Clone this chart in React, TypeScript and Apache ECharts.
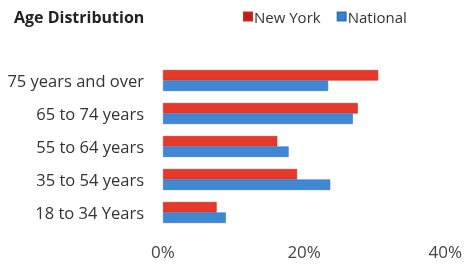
import React, { useEffect, useRef } from "react";
import * as echarts from "echarts";

const categories = ["18 to 34 Years", "35 to 54 years", "55 to 64 years", "65 to 74 years", "75 years and over"];
const newYork = [7.6, 19.0, 16.2, 27.6, 30.5];
const national = [8.9, 23.7, 17.8, 26.9, 23.4];
const seriesNames = ["New York", "National"];
const tickLabels = ["0%", "20%", "40%"];

export default function App() {
  const ref = useRef<HTMLDivElement>(null);
  useEffect(() => {
    const chart = echarts.init(ref.current!, null, { renderer: "svg" });
    const font = "'Open Sans', Lato, sans-serif";
    chart.setOption({
      animation: false,
      title: {
        text: "Age Distribution",
        left: 9,
        top: 4,
        textStyle: { fontFamily: font, fontSize: 16, fontWeight: "bold", color: "#222" },
      },
      legend: {
        left: 243,
        top: 9,
        padding: 0,
        itemWidth: 8,
        itemHeight: 8,
        itemGap: 16,
        icon: "rect",
        textStyle: { fontFamily: font, fontSize: 15, color: "#333", padding: [0, 0, 0, -3] },
        data: [
          { name: seriesNames[0], itemStyle: { color: "#c8161d" } },
          { name: seriesNames[1], itemStyle: { color: "#2f86d6" } },
        ],
      },
      grid: { left: 163, right: 19, top: 64, bottom: 37 },
      xAxis: {
        type: "value",
        min: 0,
        max: 40,
        interval: 20,
        axisLine: { show: false },
        axisTick: { show: false },
        splitLine: { show: false },
        axisLabel: {
          formatter: (v: number) => tickLabels[Math.round(v / 20)] ?? "",
          fontFamily: font,
          fontSize: 17,
          color: "#444",
          margin: 14,
        },
      },
      yAxis: {
        type: "category",
        data: categories,
        axisLine: { show: false },
        axisTick: { show: false },
        axisLabel: { fontFamily: font, fontSize: 16.5, color: "#333", margin: 19 },
      },
      series: [
        {
          name: seriesNames[0],
          type: "bar",
          data: newYork,
          barWidth: 10.5,
          barGap: "0%",
          itemStyle: { color: "#e5392b", borderColor: "#c92a20", borderWidth: 0.6 },
        },
        {
          name: seriesNames[1],
          type: "bar",
          data: national,
          barWidth: 10.5,
          barGap: "0%",
          itemStyle: { color: "#3f88d4", borderColor: "#3570b8", borderWidth: 0.6 },
        },
      ],
    });
    return () => chart.dispose();
  }, []);
  return <div ref={ref} style={{ position: "fixed", left: 0, top: 0, width: 465, height: 266 }} />;
}
